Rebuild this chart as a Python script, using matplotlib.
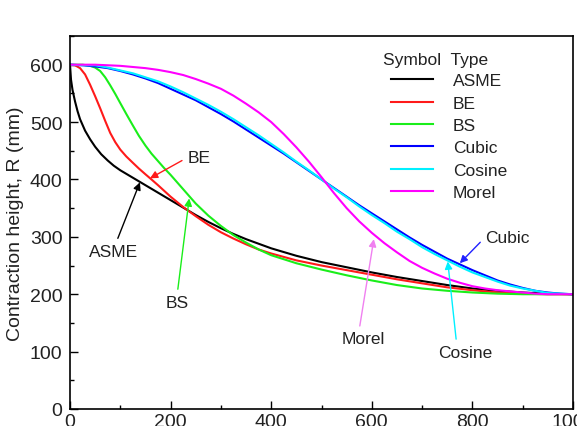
import matplotlib
matplotlib.use("Agg")
import matplotlib.pyplot as plt
from matplotlib.ticker import MultipleLocator

plt.rcParams["font.family"] = ["Liberation Sans", "DejaVu Sans"]

# values (x in mm, R in mm)
asme_x = [0, 2, 5, 10, 15, 20, 30, 40, 50, 62, 75, 87, 100, 125, 150, 175, 200, 225, 250,
          275, 300, 325, 350, 375, 400, 450, 500, 550, 600, 650, 700, 750, 800, 850, 900,
          950, 1000]
asme_r = [600, 574, 556, 536, 519, 505, 485, 470, 457, 444, 433, 424, 416, 403, 390, 377,
          364, 351, 338, 326, 315, 305, 296, 288, 280, 267, 256, 247, 238, 230, 223, 216,
          210, 206, 203, 201, 200]

be_x = [0, 10, 20, 30, 40, 50, 60, 70, 80, 90, 100, 112, 125, 137, 150, 162, 175, 200,
        225, 250, 275, 300, 325, 350, 375, 400, 450, 500, 550, 600, 650, 700, 750, 800,
        850, 900, 950, 1000]
be_r = [600, 599, 594, 583, 565, 545, 524, 502, 481, 465, 452, 440, 429, 419, 409, 400,
        390, 370, 352, 336, 321, 308, 297, 287, 278, 271, 259, 250, 242, 234, 226, 219,
        212, 207, 203, 201, 200, 200]

bs_x = [0, 25, 40, 50, 60, 70, 80, 90, 100, 112, 125, 137, 150, 162, 175, 187, 200, 225,
        250, 275, 300, 325, 350, 375, 400, 450, 500, 550, 600, 650, 700, 750, 800, 850,
        900, 950, 1000]
bs_r = [600, 600, 598, 595, 589, 578, 564, 549, 533, 514, 494, 476, 459, 445, 432, 420,
        408, 383, 358, 337, 319, 303, 290, 278, 268, 254, 243, 233, 224, 216, 210, 206,
        203, 201, 200, 200, 200]

sym_x = [0, 25, 50, 75, 100, 125, 150, 175, 200, 225, 250, 275, 300, 325, 350, 375, 400,
         425, 450, 475, 500, 525, 550, 575, 600, 625, 650, 675, 700, 725, 750, 775, 800,
         825, 850, 875, 900, 925, 950, 975, 1000]
cubic_r = [600, 599, 597, 594, 589, 583, 576, 568, 558, 548, 538, 526, 514, 501, 487, 473,
           459, 445, 430, 415, 400, 385, 370, 355, 341, 327, 313, 299, 286, 274, 262, 252,
           242, 233, 224, 217, 211, 206, 203, 201, 200]
cosine_r = [600, 599, 599, 595, 590, 585, 578, 571, 562, 552, 541, 530, 518, 505, 491, 477,
            462, 447, 431, 416, 400, 384, 369, 353, 338, 324, 309, 296, 282, 270, 259, 248,
            238, 230, 222, 215, 210, 206, 202, 201, 200]
morel_r = [600, 600, 600, 599, 598, 596, 594, 591, 587, 582, 575, 567, 558, 546, 532, 517,
           500, 479, 456, 431, 404, 376, 350, 327, 307, 289, 273, 258, 246, 236, 227, 220,
           214, 210, 207, 205, 203, 201, 200, 200, 200]

series = [
    ("ASME", asme_x, asme_r, "black"),
    ("BE", be_x, be_r, "#ff1a1a"),
    ("BS", bs_x, bs_r, "#1aee1a"),
    ("Cubic", sym_x, cubic_r, "#0000ff"),
    ("Cosine", sym_x, cosine_r, "#00f0ff"),
    ("Morel", sym_x, morel_r, "#ff00ff"),
]

# label, text position, arrow target, arrow colour, ha, va, relpos
notes = [
    ("ASME", (86, 275), (139, 395), "black", "center", "center", (0.55, 1.0)),
    ("BE", (233, 438), (159, 402), "#ff1a1a", "left", "center", (0.0, 0.5)),
    ("BS", (213, 186), (237, 367), "#1aee1a", "center", "center", (0.5, 1.0)),
    ("Cubic", (825, 299), (775, 254), "#2020ff", "left", "center", (0.0, 0.5)),
    ("Morel", (583, 122), (604, 296), "#f080f0", "center", "center", (0.4, 1.0)),
    ("Cosine", (785, 99), (751, 257), "#00f0ff", "center", "center", (0.35, 1.0)),
]

W, H = 577, 427
fig = plt.figure(figsize=(W / 100, H / 100), dpi=100)
ax = fig.add_axes([70 / W, 17 / H, 503 / W, 373 / H])

for name, xs, rs, c in series:
    ax.plot(xs, rs, color=c, lw=1.5, label=name)

for txt, xyt, xy, c, ha, va, rp in notes:
    ax.annotate(txt, xy=xy, xytext=xyt, ha=ha, va=va, fontsize=12.5, color="#222222",
                arrowprops=dict(arrowstyle="-|>", color=c, lw=1.0, mutation_scale=11,
                                shrinkA=2, shrinkB=0, relpos=rp))

ax.set_xlim(0, 1000)
ax.set_ylim(0, 650)
ax.xaxis.set_major_locator(MultipleLocator(200))
ax.xaxis.set_minor_locator(MultipleLocator(100))
ax.yaxis.set_major_locator(MultipleLocator(100))
ax.yaxis.set_minor_locator(MultipleLocator(50))
ax.tick_params(which="both", direction="in", labelsize=14, width=1.0,
               labelcolor="#222222")
ax.tick_params(axis="y", which="both", pad=5.5)
ax.tick_params(axis="x", which="both", pad=3)
ax.tick_params(which="major", length=6)
ax.tick_params(which="minor", length=3)
for s in ax.spines.values():
    s.set_linewidth(1.2)

ax.set_ylabel("Contraction height, R (mm)", fontsize=14, labelpad=4, color="#222222")

ax.text((383 - 70) / 503, (410 - 61) / 373, "Symbol  Type", transform=ax.transAxes,
        fontsize=12.5, ha="left", va="center", color="#222222")
leg = ax.legend(loc="upper left", bbox_to_anchor=((391 - 70) / 503, (410 - 74) / 373),
                frameon=False, fontsize=12.5, borderpad=0, borderaxespad=0,
                handlelength=2.4, handletextpad=1.15, labelspacing=0.42)
for t in leg.get_texts():
    t.set_color("#222222")

fig.savefig("out.png", dpi=100)
